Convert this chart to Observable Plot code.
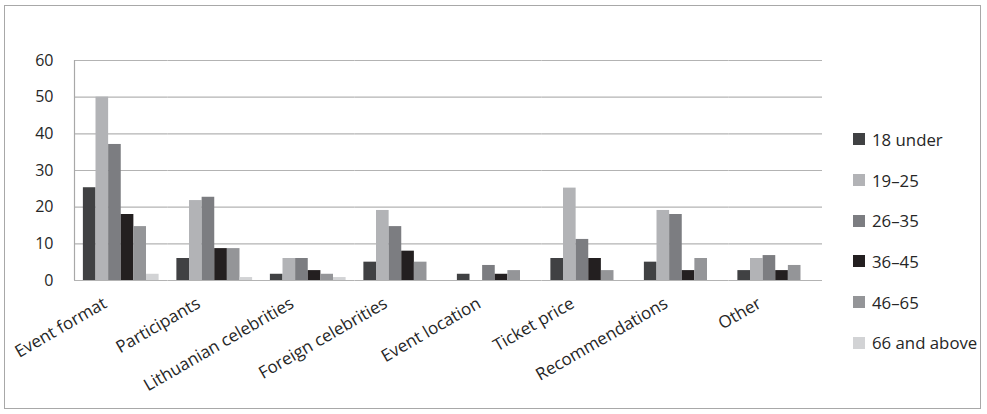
<!DOCTYPE html>
<html><head><meta charset="utf-8">
<script src="https://cdn.jsdelivr.net/npm/d3@7"></script>
<script src="https://cdn.jsdelivr.net/npm/@observablehq/plot@0.6"></script>
<style>
body{margin:0;background:#fff;}
#wrap{position:relative;width:987px;height:414px;overflow:hidden;font-family:"Open Sans",sans-serif;}
#border{position:absolute;left:4px;top:5px;width:977px;height:404px;border:1.5px solid #a8a8a8;box-sizing:border-box;}
#chart{position:absolute;left:0;top:0;}
#legend{position:absolute;left:853px;top:119px;}
#legend .lg-swatches{display:flex;flex-direction:column;align-items:flex-start;margin:0;min-height:0;font-family:"Open Sans",sans-serif;font-size:16.8px;color:#262626;}
#legend .lg-swatch{height:40.7px;display:flex;align-items:center;margin:0;}
#legend .lg-swatch > svg{margin-right:7px;}
</style></head><body>
<div id="wrap"><div id="border"></div><div id="chart"></div><div id="legend"></div></div>
<script>
const categories = ["Event format","Participants","Lithuanian celebrities","Foreign celebrities","Event location","Ticket price","Recommendations","Other"];
const ages = ["18 under","19–25","26–35","36–45","46–65","66 and above"];
const under18 = [25.3, 6, 1.7, 5, 1.7, 6, 5, 2.7];
const age19_25 = [50, 21.8, 6, 19.1, 0, 25.2, 19.1, 6];
const age26_35 = [37.1, 22.7, 6, 14.7, 4.1, 11.2, 18, 6.8];
const age36_45 = [18, 8.7, 2.7, 8, 1.7, 6, 2.7, 2.7];
const age46_65 = [14.7, 8.7, 1.7, 5, 2.7, 2.7, 6, 4.1];
const age66up = [1.7, 0.8, 0.8, 0, 0, 0, 0, 0];
const colors = ["#404143","#b2b3b6","#7c7d81","#231f20","#949598","#d2d3d5"];
const yTicks = [0,10,20,30,40,50,60];

const series = [under18, age19_25, age26_35, age36_45, age46_65, age66up];
const data = [];
series.forEach((vals, si) => vals.forEach((v, ci) => data.push({category: categories[ci], age: ages[si], value: v})));

const W=987,H=414,ML=74,MR=165,MT=60,MB=134,PI=0.19,PO=PI/2;
const step = (W-ML-MR)/(categories.length - PI + 2*PO);
const gapHalf = step*PI/2;
const barW = step*(1-PI)/ages.length;

const chart = Plot.plot({
  width: W, height: H, marginLeft: ML, marginRight: MR, marginTop: MT, marginBottom: MB,
  style: {fontFamily: "Open Sans", fontSize: "16px", color: "#262626", background: "transparent"},
  fx: {domain: categories, paddingInner: PI, paddingOuter: PO, label: null, round: false},
  x: {domain: ages, padding: 0, axis: null, round: false},
  y: {domain: [0,60], label: null},
  color: {domain: ages, range: colors},
  marks: [
    Plot.ruleY(yTicks, {stroke: "#b3b3b3", strokeWidth: 1.2, insetLeft: -gapHalf, insetRight: -gapHalf}),
    Plot.barY(data, {fx: "category", x: "age", y: "value", fill: "age"}),
    Plot.ruleX([{category: categories[0], age: ages[0]}], {fx: "category", x: "age", y1: 0, y2: 60, dx: -(barW/2+gapHalf), stroke: "#a8a8a8", strokeWidth: 1.2}),
    Plot.axisY({ticks: yTicks, tickSize: 0, tickPadding: 21 + gapHalf, fontSize: 16, label: null}),
    Plot.axisFx({anchor: "bottom", tickRotate: -30, tickSize: 0, fontSize: 17, label: null, dx: -16, dy: 9})
  ]
});
document.getElementById("chart").appendChild(chart);

const leg = Plot.legend({color: {domain: ages, range: colors, type: "ordinal"}, legend: "swatches", swatchSize: 12, className: "lg"});
document.getElementById("legend").appendChild(leg);
</script>
</body></html>
